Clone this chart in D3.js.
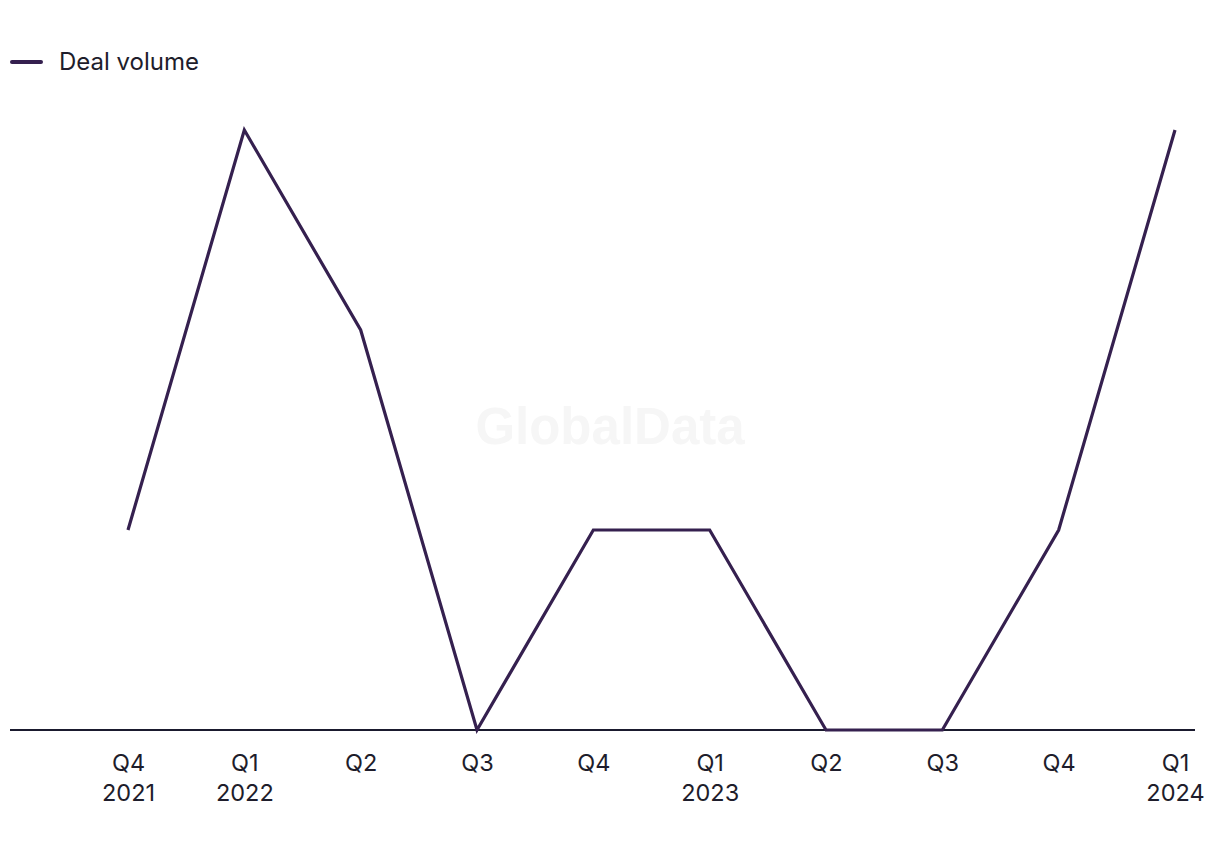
<!DOCTYPE html>
<html>
<head>
<meta charset="utf-8">
<script src="https://cdn.jsdelivr.net/npm/d3@7"></script>
<style>
  body { margin: 0; background: #fff; font-family: Inter, "Noto Sans", sans-serif; }
</style>
</head>
<body>
<svg></svg>
<script>
// chart data
let quarters = ['Q4', 'Q1', 'Q2', 'Q3', 'Q4', 'Q1', 'Q2', 'Q3', 'Q4', 'Q1'];
let years = ['2021', '2022', '', '', '', '2023', '', '', '', '2024'];
let dealVolume = [1, 3, 2, 0, 1, 1, 0, 0, 1, 3];
let seriesName = 'Deal volume';

let width = 1220;
let height = 850;
let lineColor = '#35204f';
let textColor = '#1e1d2b';

let svg = d3.select('svg')
    .attr('width', width)
    .attr('height', height);

let idx = d3.range(dealVolume.length);

let xScale = d3.scalePoint()
    .domain(idx)
    .range([128, 1175]);

let yScale = d3.scaleLinear()
    .domain([0, 3])
    .range([730, 130]);

// watermark
svg.append('text')
    .attr('x', 610)
    .attr('y', 444)
    .attr('text-anchor', 'middle')
    .attr('font-family', 'Liberation Sans, Arial, sans-serif')
    .attr('font-weight', 'bold')
    .attr('font-size', 51)
    .attr('fill', '#f6f6f6')
    .text('GlobalData');

// x axis
let xAxis = d3.axisBottom(xScale).tickSize(0).tickFormat('');
let gx = svg.append('g')
    .attr('transform', `translate(0, ${yScale(0)})`)
    .call(xAxis);
gx.select('.domain')
    .attr('d', 'M10,0H1195')
    .attr('stroke', '#1a1a2e')
    .attr('stroke-width', 2);

gx.selectAll('.tick').each(function (d) {
    let t = d3.select(this).append('text')
        .attr('fill', textColor)
        .attr('font-size', 23.5)
        .attr('text-anchor', 'middle')
        .attr('font-family', 'Inter, "Noto Sans", sans-serif');
    t.append('tspan').attr('x', 0).attr('y', 41).text(quarters[d]);
    if (years[d]) t.append('tspan').attr('x', 0).attr('y', 71).text(years[d]);
});

// line
let line = d3.line()
    .x((d, i) => xScale(i))
    .y((d) => yScale(d));

svg.append('path')
    .datum(dealVolume)
    .attr('fill', 'none')
    .attr('stroke', lineColor)
    .attr('stroke-width', 3.2)
    .attr('stroke-linejoin', 'miter')
    .attr('d', line);

// legend
let legend = svg.append('g');
legend.append('line')
    .attr('x1', 12).attr('x2', 41)
    .attr('y1', 62).attr('y2', 62)
    .attr('stroke', lineColor)
    .attr('stroke-width', 4)
    .attr('stroke-linecap', 'round');
legend.append('text')
    .attr('x', 59)
    .attr('y', 70)
    .attr('fill', textColor)
    .attr('font-size', 24)
    .text(seriesName);
</script>
</body>
</html>
